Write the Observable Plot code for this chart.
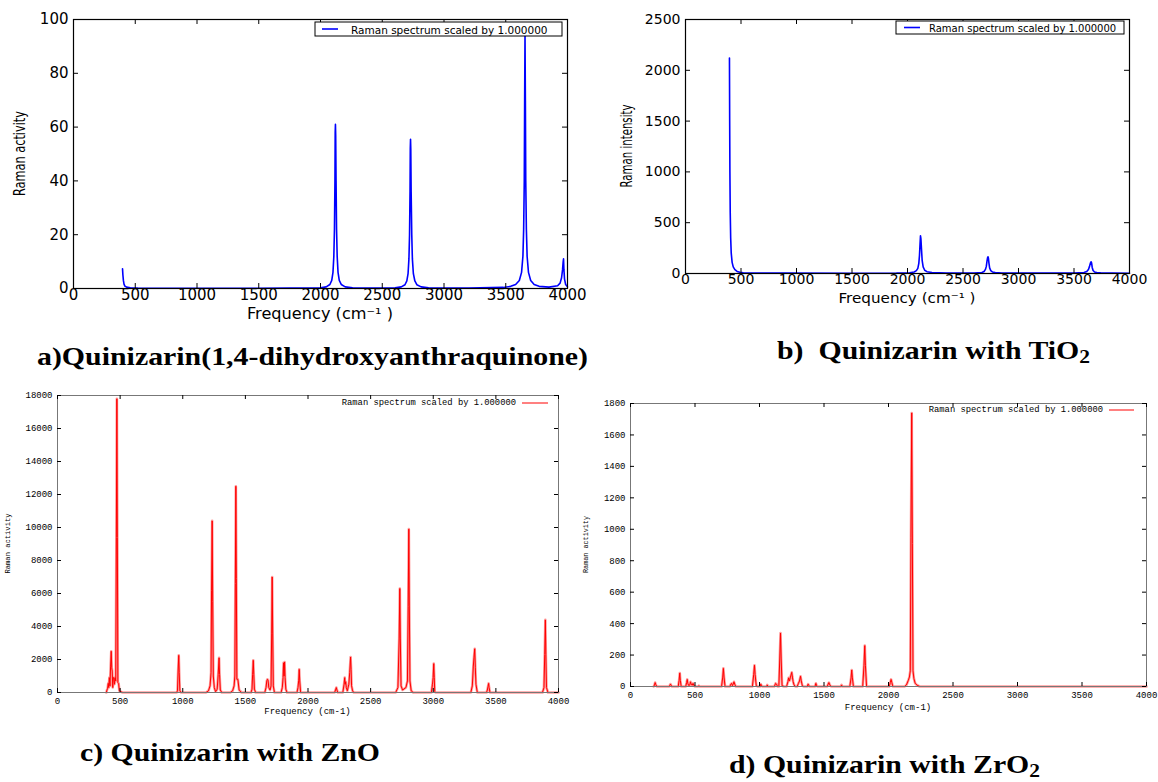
<!DOCTYPE html>
<html><head><meta charset="utf-8">
<script src="https://cdn.jsdelivr.net/npm/d3@7"></script>
<script src="https://cdn.jsdelivr.net/npm/@observablehq/plot@0.6"></script>
<style>
body{margin:0;background:#fff;}
#fig{position:relative;width:1158px;height:782px;overflow:hidden;background:#fff;}
.panel{position:absolute;}
.cap{position:absolute;font-family:"Liberation Serif","Times New Roman",Times,serif;font-weight:bold;font-size:25px;white-space:pre;transform-origin:0 0;line-height:1;color:#000;}
.cap sub{font-size:0.72em;vertical-align:-0.2em;line-height:0;}
</style></head><body><div id="fig"></div>
<script>
// ---------- data ----------
const freqTicks = [0, 500, 1000, 1500, 2000, 2500, 3000, 3500, 4000];
const yTicksA = [0, 20, 40, 60, 80, 100];
const yTicksB = [0, 500, 1000, 1500, 2000, 2500];
const yTicksC = [0, 2000, 4000, 6000, 8000, 10000, 12000, 14000, 16000, 18000];
const yTicksD = [0, 200, 400, 600, 800, 1000, 1200, 1400, 1600, 1800];

const legendText = "Raman spectrum scaled by 1.000000";
const captions = ["a)Quinizarin(1,4-dihydroxyanthraquinone)", "b)  Quinizarin with TiO", "c) Quinizarin with ZnO", "d) Quinizarin with ZrO"];

// (a) Quinizarin
const freqA = [397, 400, 404, 409, 416, 430, 460, 520, 800, 1500,
  2000, 2046, 2076, 2091, 2101, 2108, 2113, 2117, 2119, 2121, 2123, 2126, 2130, 2135, 2142, 2152, 2168, 2200, 2260,
  2500, 2604, 2654, 2684, 2699, 2709, 2716, 2721, 2725, 2727, 2729, 2731, 2734, 2739, 2744, 2752, 2764, 2780, 2815, 2875,
  3200, 3480, 3540, 3580, 3610, 3628, 3639, 3645, 3650, 3653, 3656, 3659, 3662, 3667, 3673, 3684, 3702, 3730, 3770, 3850,
  3920, 3940, 3952, 3960, 3965, 3968, 3971, 3976, 3985, 4000];
const activityA = [7.3, 5, 3, 1.6, 0.9, 0.5, 0.3, 0.2, 0.1, 0.1,
  0.3, 0.6, 1.5, 3, 6, 12, 22, 40, 58, 61, 57, 40, 22, 12, 6, 3, 1.5, 0.6, 0.3,
  0.15, 0.3, 0.6, 1.4, 2.8, 5.5, 11, 20, 36, 52, 55.5, 52, 36, 20, 11, 5.5, 2.8, 1.4, 0.6, 0.3,
  0.2, 0.4, 0.8, 1.5, 3, 6, 12, 22, 40, 70, 95, 70, 40, 22, 12, 6, 3, 1.5, 0.8, 0.5,
  1, 2, 4, 7, 10, 11, 7, 3.5, 1.5, 0.6];

// (b) Quinizarin with TiO2
const freqB = [396, 398, 400, 403, 407, 412, 420, 430, 445, 465, 490, 520, 600, 900, 1500,
  1900, 2020, 2060, 2080, 2093, 2102, 2108, 2113, 2117, 2121, 2126, 2132, 2141, 2155, 2175, 2220, 2350,
  2600, 2670, 2690, 2702, 2710, 2716, 2721, 2725, 2729, 2734, 2740, 2750, 2765, 2790, 2850, 3100,
  3500, 3590, 3615, 3630, 3640, 3647, 3652, 3655, 3659, 3664, 3672, 3685, 3705, 3740, 3850, 4000];
const intensityB = [2120, 1500, 1000, 600, 350, 200, 110, 65, 38, 20, 12, 8, 5, 4, 3,
  4, 8, 15, 28, 50, 100, 180, 290, 370, 340, 240, 130, 65, 32, 18, 9, 5,
  5, 10, 20, 40, 70, 120, 155, 165, 150, 100, 55, 28, 15, 9, 5, 4,
  5, 10, 20, 40, 70, 100, 113, 115, 100, 60, 30, 15, 9, 6, 4, 3];

// (c) Quinizarin with ZnO
const freqC = [390, 395, 400, 405, 409, 414, 419, 424, 429, 433, 437, 441, 445, 450, 455, 460, 465, 470, 474, 478, 482, 488, 494, 505, 520,
  950, 958, 963, 968, 972, 977, 987,
  1185, 1205, 1218, 1226, 1230, 1235, 1239, 1244, 1252, 1262, 1275, 1283, 1290, 1294, 1300, 1312,
  1380, 1398, 1410, 1416, 1420, 1424, 1428, 1432, 1440, 1450, 1470,
  1545, 1553, 1558, 1563, 1567, 1572, 1582,
  1655, 1665, 1671, 1676, 1681, 1687, 1697, 1705, 1710, 1714, 1718, 1723, 1732,
  1785, 1795, 1801, 1805, 1809, 1813, 1817, 1823, 1833,
  1912, 1920, 1926, 1930, 1934, 1941,
  2212, 2220, 2226, 2231, 2238,
  2278, 2288, 2293, 2297, 2301, 2306, 2314, 2326, 2333, 2340, 2344, 2348, 2356, 2366,
  2700, 2718, 2728, 2733, 2737, 2743, 2755, 2782, 2794, 2800, 2805, 2809, 2814, 2824, 2840,
  2985, 2994, 2999, 3004, 3008, 3012, 3020,
  3300, 3312, 3320, 3325, 3331, 3336, 3341, 3352,
  3425, 3432, 3437, 3442, 3446, 3453,
  3872, 3884, 3890, 3895, 3899, 3904, 3916, 4000];
const activityC = [0, 150, 250, 550, 300, 900, 400, 1600, 2500, 1500, 1300, 300, 900, 900, 500, 900, 700, 9400, 17800, 9400, 600, 550, 100, 50, 0,
  0, 100, 1300, 2250, 1200, 100, 0,
  0, 100, 400, 1200, 6200, 10400, 5500, 1000, 300, 50, 200, 1100, 2100, 1100, 150, 0,
  0, 100, 400, 1000, 6600, 12500, 6900, 800, 800, 150, 0,
  0, 200, 1100, 1950, 1100, 200, 0,
  0, 300, 700, 800, 750, 300, 150, 400, 3600, 7000, 3600, 400, 0,
  0, 300, 900, 1800, 1000, 1850, 900, 200, 0,
  0, 300, 750, 1400, 700, 0,
  0, 150, 300, 150, 0,
  0, 500, 900, 500, 650, 300, 100, 500, 1200, 2150, 1400, 400, 100, 0,
  0, 300, 3300, 6300, 3300, 400, 150, 300, 700, 5200, 9900, 5300, 700, 100, 0,
  0, 500, 900, 1750, 900, 50, 0,
  0, 400, 1600, 2100, 2650, 1500, 500, 0,
  0, 150, 350, 550, 300, 0,
  0, 300, 2300, 4400, 2300, 300, 0, 0];

// (d) Quinizarin with ZrO2
const freqD = [180, 186, 191, 196, 204,
  300, 305, 310, 315, 322,
  370, 377, 382, 386, 393,
  428, 435, 440, 444, 452, 460, 465, 470, 478, 485, 492, 500,
  525, 530, 535,
  706, 715, 720, 725, 733,
  770, 778, 784, 790, 796, 802, 808, 816,
  945, 955, 961, 966, 975, 985, 1005, 1010, 1016, 1024, 1055, 1060, 1066,
  1115, 1125, 1132, 1140,
  1150, 1157, 1163, 1168, 1175, 1190,
  1210, 1220, 1226, 1232, 1240, 1250, 1255, 1261, 1268, 1278,
  1292, 1302, 1310, 1318, 1324, 1332, 1342,
  1370, 1377, 1383, 1390,
  1430, 1437, 1443, 1450,
  1525, 1532, 1538, 1545, 1555,
  1630, 1636, 1642,
  1700, 1710, 1715, 1720, 1728,
  1800, 1810, 1816, 1821, 1830,
  2006, 2014, 2020, 2026, 2034,
  2124, 2139, 2154, 2162, 2169, 2174, 2180, 2185, 2190, 2197, 2207, 2222, 2242, 4000];
const activityD = [0, 10, 25, 12, 0,
  0, 8, 15, 8, 0,
  0, 40, 85, 40, 0,
  0, 25, 45, 20, 5, 10, 30, 15, 8, 20, 5, 0,
  0, 5, 0,
  0, 60, 115, 60, 0,
  0, 15, 20, 5, 15, 30, 15, 0,
  0, 75, 135, 75, 5, 0, 0, 15, 5, 0, 0, 10, 0,
  0, 20, 15, 0,
  0, 175, 340, 175, 5, 0,
  0, 30, 55, 35, 60, 90, 60, 30, 10, 0,
  0, 20, 35, 65, 35, 5, 0,
  0, 15, 5, 0,
  0, 20, 5, 0,
  0, 15, 25, 10, 0,
  0, 10, 0,
  0, 55, 105, 55, 0,
  0, 135, 260, 135, 0,
  0, 25, 45, 25, 0,
  0, 10, 40, 60, 100, 950, 1740, 910, 100, 50, 20, 8, 0, 0];

// ---------- drawing ----------
const fig = document.getElementById("fig");
const zip = (f, v) => f.map((x, i) => ({f: x, v: v[i]}));

function panel(o) {
  const iw = o.w - o.ml - o.mr, ih = o.h - o.mt - o.mb;
  const data = zip(o.freq, o.vals);
  const lineMarks = o.under
    ? [Plot.line(data, {x: "f", y: "v", stroke: o.under, strokeWidth: o.usw}),
       Plot.line(data, {x: "f", y: "v", stroke: o.color, strokeWidth: o.sw})]
    : [Plot.line(data, {x: "f", y: "v", stroke: o.color, strokeWidth: o.sw})];
  const svg = Plot.plot({
    width: o.w, height: o.h,
    marginLeft: o.ml, marginRight: o.mr, marginTop: o.mt, marginBottom: o.mb,
    style: {fontFamily: o.tickFont, fontSize: o.tickSize + "px", color: "#000", background: "transparent", overflow: "visible"},
    x: {domain: [0, 4000]},
    y: {domain: [0, o.ymax]},
    marks: [
      ...lineMarks,
      Plot.frame({stroke: o.frameColor, strokeWidth: o.frameWidth}),
      Plot.tickX(freqTicks, {x: d => d, insetTop: ih - o.tl, stroke: "#000"}),
      Plot.tickX(freqTicks, {x: d => d, insetBottom: ih - o.tl, stroke: "#000"}),
      Plot.tickY(o.yTicks, {y: d => d, insetRight: iw - o.tl, stroke: "#000"}),
      Plot.tickY(o.yTicks, {y: d => d, insetLeft: iw - o.tl, stroke: "#000"}),
      Plot.axisX({ticks: freqTicks, tickSize: 0, tickPadding: o.xpad, tickFormat: d => String(d), label: null}),
      Plot.axisY({ticks: o.yTicks, tickSize: 0, tickPadding: o.ypad, tickFormat: d => String(d), label: null})
    ]
  });
  svg.classList.add("panel");
  svg.style.left = o.left + "px";
  svg.style.top = o.top + "px";
  const s = d3.select(svg);
  // axis titles
  const yl = s.append("text")
    .attr("transform", `translate(${o.ml + o.ylabDx},${o.mt + ih / 2}) rotate(-90)`)
    .attr("text-anchor", "middle").attr("dominant-baseline", "central")
    .attr("font-family", o.ylabFont).attr("font-size", o.ylabSize).attr("fill", "#000").text(o.ylab);
  if (o.ylabLen) yl.attr("textLength", o.ylabLen).attr("lengthAdjust", "spacingAndGlyphs");
  const xl = s.append("text")
    .attr("x", o.ml + iw / 2 + (o.xlabShift || 0)).attr("y", o.mt + ih + o.xlabDy)
    .attr("text-anchor", "middle").attr("dominant-baseline", "central")
    .attr("font-family", o.xlabFont).attr("font-size", o.xlabSize).attr("fill", "#000").text(o.xlab);
  if (o.xlabLen) xl.attr("textLength", o.xlabLen).attr("lengthAdjust", "spacingAndGlyphs");
  // legend
  const g = s.append("g");
  const L = o.legend;
  if (L.box) g.append("rect").attr("x", L.box[0]).attr("y", L.box[1]).attr("width", L.box[2]).attr("height", L.box[3]).attr("fill", "#fff").attr("stroke", "#000").attr("stroke-width", 1);
  g.append("line").attr("x1", L.line[0]).attr("x2", L.line[1]).attr("y1", L.line[2]).attr("y2", L.line[2]).attr("stroke", L.lc || o.color).attr("stroke-width", L.lw);
  g.append("text").attr("x", L.text[0]).attr("y", L.text[1]).attr("text-anchor", L.anchor).attr("dominant-baseline", "central")
    .attr("font-family", L.font).attr("font-size", L.size).attr("fill", "#000").text(legendText);
  fig.appendChild(svg);
}

const mplTick = '"DejaVu Sans", sans-serif';
const narrow = '"Liberation Sans Narrow", "DejaVu Sans Condensed", "Liberation Sans", sans-serif';
const mono = '"Liberation Mono", "DejaVu Sans Mono", monospace';

panel({left: 0, top: 0, w: 580, h: 330, ml: 73, mr: 13, mt: 19, mb: 42,
  ymax: 100, yTicks: yTicksA, freq: freqA, vals: activityA, color: "#0000ff", sw: 1.6,
  frameColor: "#000", frameWidth: 1.2, tl: 5, tickFont: mplTick, tickSize: 15, xpad: 1, ypad: 5,
  ylab: "Raman activity", ylabDx: -53, ylabSize: 15, ylabFont: narrow, ylabLen: 85,
  xlab: "Frequency (cm⁻¹ )", xlabDy: 26, xlabSize: 15, xlabFont: mplTick, xlabLen: 146,
  legend: {box: [315, 22, 247, 14], line: [322, 338, 29], lw: 1.6, text: [351, 29.5], anchor: "start", font: mplTick, size: 10.5}});

panel({left: 590, top: 0, w: 568, h: 330, ml: 95, mr: 29, mt: 19, mb: 57,
  ymax: 2500, yTicks: yTicksB, freq: freqB, vals: intensityB, color: "#0000ff", sw: 1.6,
  frameColor: "#000", frameWidth: 1.2, tl: 5, tickFont: mplTick, tickSize: 14, xpad: 1, ypad: 5,
  ylab: "Raman intensity", ylabDx: -58, ylabSize: 15, ylabFont: narrow, ylabLen: 83,
  xlab: "Frequency (cm⁻¹ )", xlabDy: 25, xlabSize: 14.5, xlabFont: mplTick, xlabLen: 137,
  legend: {box: [306, 21, 228, 13], line: [314, 330, 27.5], lw: 1.6, text: [339, 28], anchor: "start", font: mplTick, size: 10}});

panel({left: 0, top: 385, w: 580, h: 340, ml: 57, mr: 22, mt: 10, mb: 33,
  ymax: 18000, yTicks: yTicksC, freq: freqC, vals: activityC, color: "#ff0000", sw: 1, under: "#ff9a9a", usw: 2.6,
  frameColor: "#777", frameWidth: 1, tl: 4, tickFont: mono, tickSize: 9, xpad: 5, ypad: 5,
  ylab: "Raman activity", ylabDx: -49, ylabSize: 7.5, ylabFont: mono, ylabLen: 60,
  xlab: "Frequency (cm-1)", xlabDy: 20, xlabSize: 9, xlabFont: mono,
  legend: {line: [522, 548, 18], lw: 2, lc: "#ff8080", text: [516, 18], anchor: "end", font: mono, size: 8.8}});

panel({left: 575, top: 390, w: 583, h: 330, ml: 55, mr: 12, mt: 13, mb: 34,
  ymax: 1800, yTicks: yTicksD, freq: freqD, vals: activityD, color: "#ff0000", sw: 1, under: "#ff9a9a", usw: 2.6,
  frameColor: "#777", frameWidth: 1, tl: 4, tickFont: mono, tickSize: 9, xpad: 5, ypad: 5,
  ylab: "Raman activity", ylabDx: -44, ylabSize: 7, ylabFont: mono, ylabLen: 57,
  xlab: "Frequency (cm-1)", xlabDy: 22, xlabSize: 9, xlabFont: mono,
  legend: {line: [534, 559, 20], lw: 2, lc: "#ff8080", text: [528, 20], anchor: "end", font: mono, size: 8.8}});

// captions: [text, subscript?, left, top, targetWidth]
const capPos = [[captions[0], false, 37, 344, 551], [captions[1], true, 777, 338, 313], [captions[2], false, 80, 740, 300], [captions[3], true, 729, 752, 311]];
capPos.forEach(([t, sub, x, y, tw]) => {
  const d = document.createElement("div");
  d.className = "cap";
  d.style.left = x + "px"; d.style.top = y + "px";
  d.textContent = t;
  if (sub) { const s = document.createElement("sub"); s.textContent = "2"; d.appendChild(s); }
  fig.appendChild(d);
  const w = d.getBoundingClientRect().width;
  d.style.transform = `scaleX(${tw / w})`;
});
</script>
</body></html>
